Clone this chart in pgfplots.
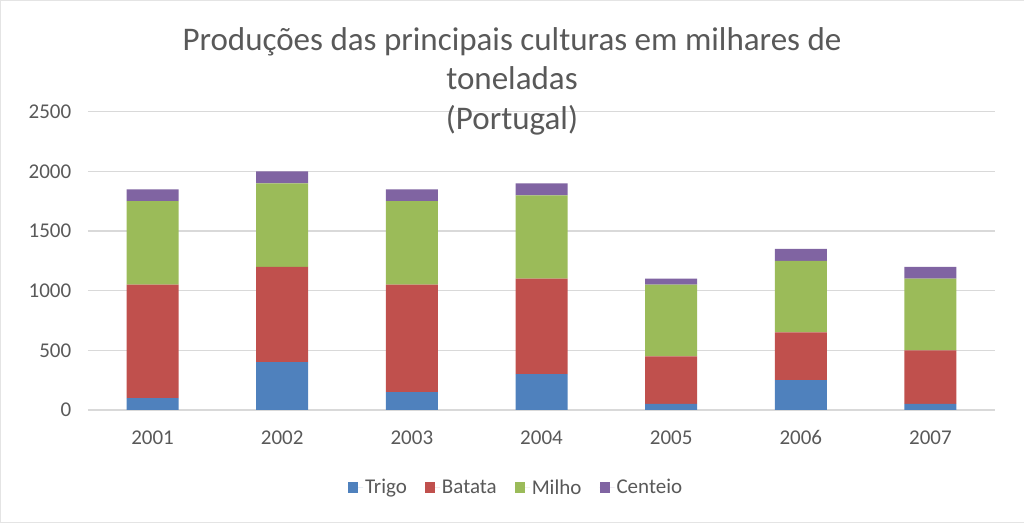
\documentclass[border=0pt]{standalone}
\usepackage{fontspec}
\setmainfont{Carlito}
\usepackage{pgfplots}
\usepackage{pgfplotstable}
\pgfplotsset{compat=1.18}

\definecolor{trigo}{HTML}{4F81BD}
\definecolor{batata}{HTML}{C0504D}
\definecolor{milho}{HTML}{9BBB59}
\definecolor{centeio}{HTML}{8064A2}
\definecolor{txt}{HTML}{595959}
\definecolor{grd}{HTML}{D9D9D9}

% milhares de toneladas
\pgfplotstableread{
x ano  trigo batata milho centeio
0 2001 100   950    700   100
1 2002 400   800    700   100
2 2003 150   900    700   100
3 2004 300   800    700   100
4 2005 50    400    600   50
5 2006 250   400    600   100
6 2007 50    450    600   100
}\dados

\begin{document}
\begin{tikzpicture}[x=1pt,y=1pt]
\draw[grd!70] (0.5,0.5) rectangle (1023.5,522.5);
\begin{axis}[
  at={(88pt,113pt)}, anchor=south west,
  scale only axis, width=907pt, height=298pt,
  ybar stacked, bar width=52pt,
  xmin=-0.5, xmax=6.5, ymin=0, ymax=2500,
  xtick=data, xticklabels from table={\dados}{ano},
  ytick={0,500,...,2500},
  ymajorgrids, grid style={grd, line width=1.2pt},
  axis line style={draw=none}, major tick length=0pt,
  tick label style={font=\fontsize{21}{24}\selectfont, text=txt},
  x tick label style={anchor=base, yshift=-35pt},
  y tick label style={xshift=-13pt},
  /pgf/number format/assume math mode=true,
  /pgf/number format/set thousands separator={},
  legend style={at={(0.472,-0.26)}, anchor=center, draw=none,
    font=\fontsize{21}{24}\selectfont, text=txt, legend columns=4,
    /tikz/every even column/.append style={column sep=16pt}},
  legend image code/.code={\fill[#1] (0pt,-5.5pt) rectangle (10pt,5.5pt);
    \path (0pt,0pt) -- (15pt,0pt);},
]
\addplot[fill=trigo, draw=none] table[x=x, y=trigo] {\dados};
\addplot[fill=batata, draw=none] table[x=x, y=batata] {\dados};
\addplot[fill=milho, draw=none] table[x=x, y=milho] {\dados};
\addplot[fill=centeio, draw=none] table[x=x, y=centeio] {\dados};
\legend{Trigo, Batata, Milho, Centeio}
\end{axis}
\begin{scope}[font=\fontsize{33}{40}\selectfont, text=txt]
\node[anchor=base] at (512,472) {Produções das principais culturas em milhares de};
\node[anchor=base] at (512,433) {toneladas};
\node[anchor=base] at (512,393) {(Portugal)};
\end{scope}
\end{tikzpicture}
\end{document}
